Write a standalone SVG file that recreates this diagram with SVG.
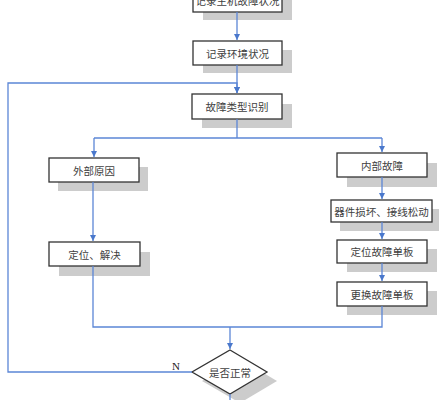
<svg xmlns="http://www.w3.org/2000/svg" width="444" height="400" viewBox="0 0 444 400">
<defs>
<style>
.sh{fill:#cccccc;stroke:none}
.bx{fill:#ffffff;stroke:#333333;stroke-width:1.3}
.t{font-family:"Noto Sans CJK SC","Noto Sans",sans-serif;font-size:10.5px;fill:#404040;text-anchor:middle;dominant-baseline:central}
.c{fill:none;stroke:#5b86d6;stroke-width:1.3}
</style>
<marker id="ah" markerWidth="8" markerHeight="8" refX="6" refY="3.5" orient="auto" markerUnits="userSpaceOnUse">
<path d="M0,0.5 L6,3.5 L0,6.5 Z" fill="#4a78cc"/>
</marker>
</defs>
<rect width="444" height="400" fill="#ffffff"/>
<g id="n1"><rect class="sh" x="203" y="-3" width="89" height="23"/><rect class="bx" x="193" y="-12" width="89" height="24"/><text class="t" x="237.5" y="0">记录主机故障状况</text></g>
<g id="n2"><rect class="sh" x="203" y="50" width="89" height="23"/><rect class="bx" x="193" y="41" width="89" height="24"/><text class="t" x="237.5" y="53">记录环境状况</text></g>
<g id="n3"><rect class="sh" x="202" y="104" width="90" height="24"/><rect class="bx" x="192" y="94" width="90" height="25"/><text class="t" x="237" y="106.5">故障类型识别</text></g>
<g id="n4"><rect class="sh" x="58" y="167" width="90" height="24"/><rect class="bx" x="49" y="158" width="90" height="24"/><text class="t" x="94" y="170">外部原因</text></g>
<g id="n5"><rect class="sh" x="59" y="252" width="91" height="24"/><rect class="bx" x="49" y="242" width="91" height="24"/><text class="t" x="94.5" y="254">定位、解决</text></g>
<g id="n6"><rect class="sh" x="347" y="163" width="90" height="24"/><rect class="bx" x="337" y="153" width="90" height="24"/><text class="t" x="382" y="165">内部故障</text></g>
<g id="n7"><rect class="sh" x="340" y="209" width="99" height="22"/><rect class="bx" x="331" y="200" width="101" height="22"/><text class="t" x="381.5" y="211">器件损坏、接线松动</text></g>
<g id="n8"><rect class="sh" x="347" y="249" width="90" height="23"/><rect class="bx" x="337" y="240" width="90" height="23"/><text class="t" x="382" y="251.5">定位故障单板</text></g>
<g id="n9"><rect class="sh" x="347" y="291" width="90" height="24"/><rect class="bx" x="337" y="282" width="90" height="24"/><text class="t" x="382" y="294">更换故障单板</text></g>
<g id="n10"><path class="sh" d="M240,359 L277,381 L240,403 L202,381 Z"/><path class="bx" d="M230,350 L267,372 L230,394 L192,372 Z"/><text class="t" x="230" y="372">是否正常</text></g>
<g id="connectors">
<path class="c" d="M237,12 V40" marker-end="url(#ah)"/>
<path class="c" d="M237,65 V93" marker-end="url(#ah)"/>
<path class="c" d="M192,372 H8 V83 H237 V93" marker-end="url(#ah)"/>
<path class="c" d="M237,119 V138"/>
<path class="c" d="M94,138 H382"/>
<path class="c" d="M94,138 V157" marker-end="url(#ah)"/>
<path class="c" d="M382,138 V152" marker-end="url(#ah)"/>
<path class="c" d="M93,182 V241" marker-end="url(#ah)"/>
<path class="c" d="M382,177 V199" marker-end="url(#ah)"/>
<path class="c" d="M382,222 V239" marker-end="url(#ah)"/>
<path class="c" d="M382,263 V281" marker-end="url(#ah)"/>
<path class="c" d="M93,266 V327 H382 V306"/>
<path class="c" d="M230,327 V349" marker-end="url(#ah)"/>
<path class="c" d="M230,394 V400"/>
<text x="172" y="370" style="font-family:'Liberation Serif',serif;font-size:11px;fill:#222">N</text>
</g>
</svg>
